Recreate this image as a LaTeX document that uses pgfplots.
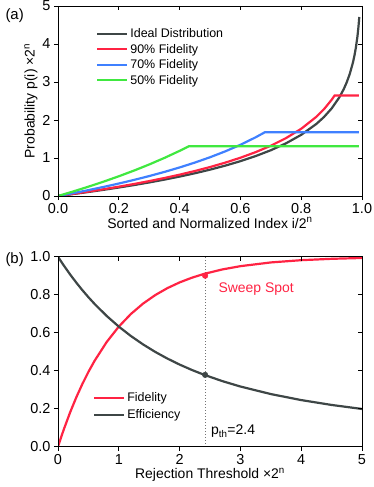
\documentclass[border=0pt]{standalone}
\usepackage{fontspec}
\setmainfont{Liberation Sans}
\usepackage{pgfplots}
\pgfplotsset{compat=1.18}

\definecolor{cIdeal}{HTML}{3E4646}
\definecolor{cRed}{HTML}{FF2343}
\definecolor{cBlue}{HTML}{3F80FF}
\definecolor{cGreen}{HTML}{40E840}

\pgfplotsset{
  panel/.style={
    scale only axis, width=304bp, height=190bp,
    font=\fontsize{14}{16}\selectfont,
    tick label style={font=\fontsize{14.5}{16}\selectfont},
    tick align=outside, xtick pos=lower, ytick pos=left,
    major tick length=4bp, tick style={line width=0.8pt, black},
    axis line style={line width=0.8pt},
    /pgf/number format/assume math mode=true,
    legend style={draw=none, fill=none, font=\fontsize{12.5}{14}\selectfont,
      row sep=1pt, inner sep=0pt, anchor=north west},
    legend cell align=left,
    legend image code/.code={\draw[##1, line width=2.2bp] (0bp,0bp) -- (30bp,0bp);},
  },
  mirror/.style={
    scale only axis, width=304bp, height=190bp,
    tick align=inside, xtick pos=upper, ytick pos=right,
    major tick length=4bp, tick style={line width=0.8pt, black},
    axis line style={line width=0.8pt},
    xticklabels={}, yticklabels={},
  },
  crv/.style={line width=2.2bp, no marks},
}

\begin{document}
\begin{tikzpicture}
\useasboundingbox (-58bp,-291bp) rectangle (316bp,196bp);

% ---------------- panel (a)
\begin{axis}[panel, at={(0,0)}, anchor=south west,
  xmin=0, xmax=1, ymin=0, ymax=5,
  xtick={0,0.2,0.4,0.6,0.8,1.0}, ytick={0,1,2,3,4,5},
  xticklabel style={/pgf/number format/.cd, fixed, fixed zerofill, precision=1},
  xlabel={Sorted and Normalized Index i/2\textsuperscript{n}},
  ylabel={Probability p(i) ×2\textsuperscript{n}},
  xlabel style={yshift=3bp}, ylabel style={yshift=-2bp},
  legend style={at={(0.125,0.893)}},
]
\addplot[crv, cIdeal] coordinates {
 (0,0) (0.05,0.05129) (0.1,0.10536) (0.15,0.16252) (0.2,0.22314) (0.25,0.28768)
 (0.3,0.35667) (0.35,0.43078) (0.4,0.51083) (0.45,0.59784) (0.5,0.69315)
 (0.55,0.79851) (0.6,0.91629) (0.65,1.04982) (0.7,1.20397) (0.75,1.38629)
 (0.8,1.60944) (0.85,1.89712) (0.875,2.07944) (0.9,2.30259) (0.925,2.59027)
 (0.94,2.81341) (0.95,2.99573) (0.96,3.21888) (0.97,3.50656) (0.975,3.68888)
 (0.98,3.91202) (0.985,4.19971) (0.988,4.42285) (0.99,4.60517) (0.991,4.71053)};
\addlegendentry{Ideal Distribution}
\addplot[crv, cRed] coordinates {
 (0,0) (0.05,0.05636) (0.1,0.11578) (0.15,0.17859) (0.2,0.24521) (0.25,0.31613)
 (0.3,0.39195) (0.35,0.47338) (0.4,0.56135) (0.45,0.65697) (0.5,0.76170)
 (0.55,0.87748) (0.6,1.00691) (0.65,1.15365) (0.7,1.32304) (0.75,1.52340)
 (0.8,1.76862) (0.85,2.08475) (0.875,2.28510) (0.9,2.53032) (0.91,2.646)
 (0.99,2.646)};
\addlegendentry{90\% Fidelity}
\addplot[crv, cBlue] coordinates {
 (0,0) (0.05,0.07543) (0.1,0.15494) (0.15,0.23900) (0.2,0.32815) (0.25,0.42306)
 (0.3,0.52451) (0.35,0.63350) (0.4,0.75122) (0.45,0.87918) (0.5,1.01934)
 (0.55,1.17428) (0.6,1.34749) (0.65,1.54385) (0.68,1.67563) (0.99,1.67563)};
\addlegendentry{70\% Fidelity}
\addplot[crv, cGreen] coordinates {
 (0,0) (0.05,0.11928) (0.1,0.24502) (0.15,0.37795) (0.2,0.51893) (0.25,0.66902)
 (0.3,0.82947) (0.35,1.00181) (0.4,1.18798) (0.43,1.30726) (0.99,1.30726)};
\addlegendentry{50\% Fidelity}
\end{axis}
\begin{axis}[mirror, at={(0,0)}, anchor=south west,
  xmin=0, xmax=1, ymin=0, ymax=5,
  xtick={0,0.2,0.4,0.6,0.8,1.0}, ytick={0,1,2,3,4,5}]
\end{axis}
\node[font=\fontsize{15}{17}\selectfont, anchor=west] at (-56bp,180bp) {(a)};

% ---------------- panel (b)
\begin{axis}[panel, at={(0,-250.7bp)}, anchor=south west,
  xmin=0, xmax=5, ymin=0, ymax=1,
  xtick={0,1,2,3,4,5}, ytick={0,0.2,0.4,0.6,0.8,1.0},
  yticklabel style={/pgf/number format/.cd, fixed, fixed zerofill, precision=1},
  xlabel={Rejection Threshold ×2\textsuperscript{n}},
  xlabel style={yshift=3bp},
  legend style={at={(0.115,0.295)}, row sep=2pt},
]
\addplot[line width=1pt, dotted, black!55, forget plot] coordinates {(2.42,0) (2.42,1)};
\addplot[crv, cRed] coordinates {
 (0,0) (0.01,0.00995) (0.02,0.019801) (0.05,0.048771) (0.1,0.095163) (0.2,0.181269)
 (0.3,0.259182) (0.4,0.329680) (0.5,0.393469) (0.6,0.451188) (0.8,0.550671)
 (1.0,0.632121) (1.2,0.698806) (1.4,0.753403) (1.6,0.798103) (1.8,0.834701)
 (2.0,0.864665) (2.2,0.889197) (2.4,0.909282) (2.7,0.932794) (3.0,0.950213)
 (3.5,0.969803) (4.0,0.981684) (4.5,0.988891) (5.0,0.993262)};
\addlegendentry{Fidelity}
\addplot[crv, cIdeal] coordinates {
 (0,1) (0.01,0.99502) (0.02,0.99005) (0.05,0.97541) (0.1,0.95163) (0.2,0.90635)
 (0.3,0.86394) (0.4,0.82420) (0.5,0.78694) (0.6,0.75198) (0.8,0.68834)
 (1.0,0.63212) (1.2,0.58234) (1.4,0.53815) (1.6,0.49881) (1.8,0.46372)
 (2.0,0.43233) (2.2,0.40418) (2.4,0.37887) (2.7,0.34548) (3.0,0.31674)
 (3.5,0.27709) (4.0,0.24542) (4.5,0.21975) (5.0,0.19865)};
\addlegendentry{Efficiency}
\addplot[only marks, mark=*, mark size=2.8bp, cRed, forget plot] coordinates {(2.42,0.9)};
\addplot[only marks, mark=*, mark size=2.8bp, cIdeal, forget plot] coordinates {(2.42,0.378)};
\node[cRed, font=\fontsize{14}{16}\selectfont] at (axis cs:3.26,0.83) {Sweep Spot};
\node[anchor=west, font=\fontsize{14}{16}\selectfont] at (axis cs:2.46,0.08) {p\textsubscript{th}=2.4};
\end{axis}
\begin{axis}[mirror, at={(0,-250.7bp)}, anchor=south west,
  xmin=0, xmax=5, ymin=0, ymax=1,
  xtick={0,1,2,3,4,5}, ytick={0,0.2,0.4,0.6,0.8,1.0}]
\end{axis}
\node[font=\fontsize{15}{17}\selectfont, anchor=west] at (-56bp,-64bp) {(b)};
\end{tikzpicture}
\end{document}
